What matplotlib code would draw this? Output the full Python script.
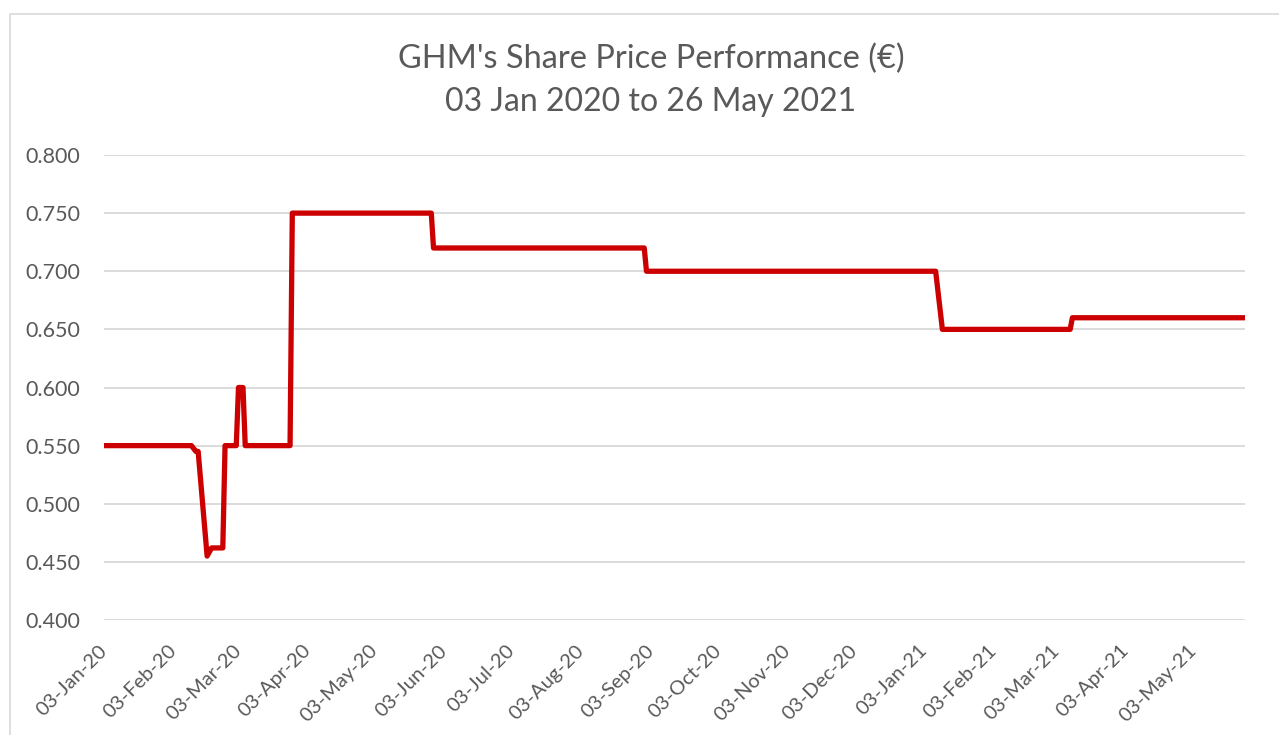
import matplotlib
matplotlib.use("Agg")
import matplotlib.pyplot as plt
from matplotlib.patches import Rectangle
from matplotlib.transforms import ScaledTranslation
import pandas as pd

# Data: change points of the share price (date, price)
dates = ["2020-01-03", "2020-02-11", "2020-02-13", "2020-02-14", "2020-02-18",
         "2020-02-20", "2020-02-25", "2020-02-26", "2020-03-02", "2020-03-03",
         "2020-03-05", "2020-03-06", "2020-03-26", "2020-03-27", "2020-05-28",
         "2020-05-29", "2020-08-31", "2020-09-01", "2021-01-08", "2021-01-11",
         "2021-03-09", "2021-03-10", "2021-05-26"]
prices = [0.550, 0.550, 0.545, 0.545, 0.455,
          0.462, 0.462, 0.550, 0.550, 0.600,
          0.600, 0.550, 0.550, 0.750, 0.750,
          0.720, 0.720, 0.700, 0.700, 0.650,
          0.650, 0.660, 0.660]

title = "GHM's Share Price Performance (€)"
subtitle = "03 Jan 2020 to 26 May 2021"
yticks = [0.40, 0.45, 0.50, 0.55, 0.60, 0.65, 0.70, 0.75, 0.80]
xtick_labels = ["03-Jan-20", "03-Feb-20", "03-Mar-20", "03-Apr-20", "03-May-20",
                "03-Jun-20", "03-Jul-20", "03-Aug-20", "03-Sep-20", "03-Oct-20",
                "03-Nov-20", "03-Dec-20", "03-Jan-21", "03-Feb-21", "03-Mar-21",
                "03-Apr-21", "03-May-21"]

x = pd.to_datetime(dates)
FONT = ["Lato", "DejaVu Sans"]
GRAY = "#595959"

fig = plt.figure(figsize=(12.79, 7.35), dpi=100)
fig.patch.set_facecolor("white")
# outer chart border (light gray)
fig.patches.append(Rectangle((10 / 1279, -0.1), 1.2, 1 - 14 / 735 + 0.1,
                             transform=fig.transFigure, fill=False,
                             edgecolor="#D9D9D9", linewidth=1.2))

ax = fig.add_axes([104 / 1279, 1 - 620 / 735, (1245 - 104) / 1279, (620 - 155) / 735])
ax.plot(x, prices, color="#CC0000", linewidth=3.8, solid_joinstyle="round",
        solid_capstyle="butt", zorder=3)

ax.set_xlim(pd.Timestamp("2020-01-03"), pd.Timestamp("2021-05-26"))
ax.set_ylim(0.40, 0.80)
ax.set_yticks(yticks)
ax.yaxis.set_major_formatter(matplotlib.ticker.FormatStrFormatter("%.3f"))
ax.grid(axis="y", color="#D9D9D9", linewidth=1.3)
ax.set_axisbelow(True)

tick_dates = pd.to_datetime(xtick_labels, format="%d-%b-%y")
ax.set_xticks(tick_dates)
ax.set_xticklabels(xtick_labels, rotation=45, ha="right", va="center",
                   rotation_mode="anchor", family=FONT, fontsize=14.5,
                   color=GRAY)
shift = ScaledTranslation(9 / 100, 0, fig.dpi_scale_trans)
for tick in ax.xaxis.get_major_ticks():
    tick.label1.set_transform(tick.label1.get_transform() + shift)
for lab in ax.get_yticklabels():
    lab.set_family(FONT)
    lab.set_fontsize(15.5)
    lab.set_color(GRAY)

for s in ax.spines.values():
    s.set_visible(False)
ax.tick_params(axis="both", length=0)
ax.tick_params(axis="y", pad=17)
ax.tick_params(axis="x", pad=20)

fig.text(651 / 1279, 1 - 59 / 735, title, ha="center", va="center",
         family=FONT, fontsize=23.4, color=GRAY)
fig.text(651 / 1279, 1 - 102 / 735, subtitle, ha="center", va="center",
         family=FONT, fontsize=23, color=GRAY)

fig.savefig("out.png", dpi=100, facecolor="white")
